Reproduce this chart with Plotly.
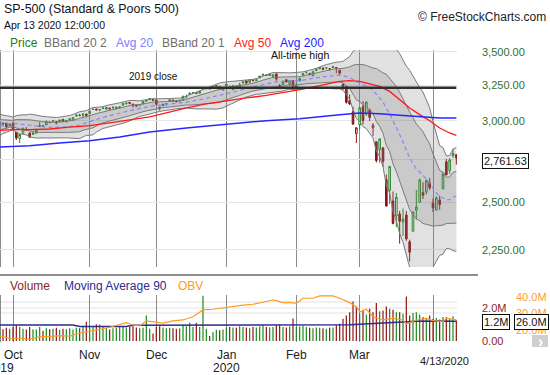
import plotly.graph_objects as go
import pandas as pd

# ---------------- data ----------------
HOLIDAYS = ["2019-11-28", "2019-12-25", "2020-01-01", "2020-01-20", "2020-02-17", "2020-04-10"]
DATES = [d.strftime("%Y-%m-%d") for d in pd.bdate_range("2019-09-25", "2020-04-13")
         if d.strftime("%Y-%m-%d") not in HOLIDAYS]

# closes before the visible window (needed for the 20-day Bollinger bands)
PRE_CLOSE = [2887.94, 2924.58, 2926.46, 2906.27, 2937.78, 2976.00, 2978.71, 2978.43, 2979.39, 3000.93,
             3009.57, 3007.39, 2997.96, 3005.70, 3006.73, 3006.79, 2992.07, 2991.78, 2966.60]

OPEN = [2968.35, 2985.73, 2985.47, 2967.07,
        2983.69, 2924.78, 2885.38, 2918.56, 2944.23, 2920.40, 2911.10, 2918.55, 2963.07, 2965.81, 2973.61, 2989.68,
        3000.77, 2996.84, 2996.48, 3010.73, 2994.01, 3014.78, 3003.32, 3032.12, 3035.39, 3039.74, 3046.90,
        3050.72, 3078.96, 3080.80, 3075.10, 3087.02, 3081.25, 3080.33, 3089.28, 3084.18, 3090.75, 3107.92, 3117.91,
        3127.45, 3114.66, 3108.49, 3111.41, 3117.44, 3134.85, 3145.49, 3147.18,
        3143.85, 3087.41, 3103.50, 3119.21, 3134.62, 3141.86, 3135.36, 3135.75, 3141.23, 3166.65, 3183.63, 3195.40,
        3195.21, 3192.32, 3223.33, 3226.05, 3225.45, 3227.20, 3247.23, 3240.09, 3215.18,
        3244.67, 3226.36, 3217.55, 3241.86, 3238.59, 3266.03, 3281.81, 3271.13, 3285.35, 3282.27, 3302.97, 3323.66,
        3321.03, 3330.02, 3315.77, 3333.10, 3247.16, 3255.35, 3289.46, 3256.45, 3282.33,
        3235.66, 3280.61, 3324.91, 3344.92, 3335.54, 3318.28, 3365.87, 3370.50, 3365.90, 3378.08, 3369.04, 3380.39,
        3380.45, 3360.50, 3257.61, 3238.94, 3139.90, 3062.54, 2916.90,
        2974.28, 3096.46, 3045.75, 3075.70, 2954.20, 2863.89, 2813.48, 2825.60, 2630.86, 2569.99, 2508.59, 2425.66,
        2436.50, 2393.48, 2431.94, 2290.71, 2344.44, 2457.77, 2501.29, 2555.87, 2558.98, 2614.69,
        2498.08, 2458.54, 2514.92, 2578.28, 2738.65, 2685.00, 2776.99, 2782.46]

HIGH = [2989.82, 2987.28, 2987.31, 2983.85,
        2992.53, 2924.78, 2911.13, 2953.74, 2959.75, 2925.47, 2929.32, 2948.46, 2993.28, 2972.84, 3003.28, 2997.54,
        3008.29, 3000.00, 3007.33, 3014.57, 3004.78, 3016.07, 3027.39, 3044.08, 3047.87, 3050.10, 3046.90,
        3066.95, 3085.20, 3083.95, 3078.34, 3097.77, 3093.09, 3088.33, 3102.61, 3098.06, 3098.20, 3120.46, 3124.17,
        3127.64, 3118.97, 3110.11, 3112.87, 3133.83, 3142.69, 3154.26, 3150.30,
        3144.31, 3094.97, 3119.38, 3119.45, 3150.60, 3148.87, 3142.12, 3143.98, 3176.28, 3182.68, 3197.71, 3198.22,
        3198.48, 3205.48, 3225.65, 3227.78, 3226.43, 3240.08, 3247.93, 3240.92, 3231.72,
        3258.14, 3246.15, 3246.84, 3244.91, 3267.07, 3275.58, 3282.99, 3288.13, 3294.25, 3298.66, 3317.11, 3329.88,
        3329.79, 3337.77, 3326.88, 3333.18, 3258.85, 3285.78, 3293.47, 3285.91, 3282.33,
        3268.44, 3306.92, 3337.58, 3347.96, 3341.42, 3352.26, 3375.63, 3381.47, 3385.09, 3380.69, 3375.01, 3393.52,
        3385.09, 3360.76, 3259.81, 3246.99, 3182.51, 3097.07, 2959.72,
        3090.96, 3136.72, 3130.97, 3083.04, 2985.93, 2863.89, 2882.59, 2825.60, 2660.95, 2711.33, 2562.98, 2553.93,
        2453.57, 2466.97, 2453.01, 2300.73, 2449.71, 2571.42, 2637.01, 2615.91, 2631.80, 2641.39,
        2522.75, 2533.22, 2538.18, 2676.85, 2756.89, 2760.75, 2818.57, 2782.46]

LOW = [2952.86, 2963.71, 2945.53, 2967.07,
       2938.70, 2874.93, 2855.94, 2918.56, 2935.68, 2892.66, 2907.41, 2917.12, 2963.07, 2962.94, 2973.61, 2985.20,
       2991.79, 2976.31, 2995.35, 2995.04, 2991.21, 3000.42, 3001.94, 3032.12, 3034.81, 3025.96, 3023.19,
       3050.72, 3074.87, 3072.15, 3065.89, 3080.23, 3073.58, 3075.82, 3084.73, 3078.80, 3083.26, 3104.60, 3112.06,
       3113.47, 3091.41, 3094.55, 3099.26, 3117.44, 3131.00, 3143.41, 3139.34,
       3110.78, 3070.33, 3102.53, 3103.76, 3134.62, 3135.46, 3126.09, 3133.21, 3138.47, 3156.51, 3183.63, 3191.03,
       3191.14, 3192.32, 3216.03, 3222.30, 3220.51, 3227.20, 3234.37, 3216.57, 3212.03,
       3235.53, 3222.34, 3214.64, 3232.43, 3236.67, 3263.67, 3260.86, 3268.43, 3277.19, 3280.69, 3302.82, 3318.86,
       3316.61, 3320.04, 3301.87, 3281.53, 3234.50, 3253.22, 3271.89, 3242.80, 3214.68,
       3235.66, 3280.61, 3313.75, 3334.39, 3322.12, 3317.77, 3352.72, 3369.72, 3360.52, 3366.15, 3355.61, 3378.83,
       3338.39, 3328.45, 3214.65, 3118.77, 3108.99, 2977.39, 2855.84,
       2945.19, 2976.63, 3034.38, 2999.83, 2901.54, 2734.43, 2734.00, 2707.22, 2478.86, 2492.37, 2380.94, 2367.04,
       2280.52, 2319.78, 2295.56, 2191.86, 2344.44, 2407.53, 2500.72, 2520.02, 2545.28, 2571.15,
       2447.49, 2455.79, 2459.96, 2574.57, 2657.67, 2663.30, 2762.36, 2721.17]

CLOSE = [2984.87, 2977.62, 2961.79, 2976.74,
         2940.25, 2887.61, 2910.63, 2952.01, 2938.79, 2893.06, 2919.40, 2938.13, 2970.27, 2966.15, 2995.68, 2989.69,
         2997.95, 2986.20, 3006.72, 2995.99, 3004.52, 3010.29, 3022.55, 3039.42, 3036.89, 3046.77, 3037.56,
         3066.91, 3078.27, 3074.62, 3076.78, 3085.18, 3093.08, 3087.01, 3091.84, 3094.04, 3096.63, 3120.46, 3122.03,
         3120.18, 3108.46, 3103.54, 3110.29, 3133.64, 3140.52, 3153.63, 3140.98,
         3113.87, 3093.20, 3112.76, 3117.43, 3145.91, 3135.96, 3132.52, 3141.63, 3168.57, 3168.80, 3191.45, 3192.52,
         3191.14, 3205.37, 3221.22, 3224.01, 3223.38, 3239.91, 3240.02, 3221.29, 3230.78,
         3257.85, 3234.85, 3246.28, 3237.18, 3253.05, 3274.70, 3265.35, 3288.13, 3283.15, 3289.29, 3316.81, 3329.62,
         3320.79, 3321.75, 3325.54, 3295.47, 3243.63, 3276.24, 3273.40, 3283.66, 3225.52,
         3248.92, 3297.59, 3334.69, 3345.78, 3327.71, 3352.09, 3357.75, 3379.45, 3373.94, 3380.16, 3370.29, 3386.15,
         3373.23, 3337.75, 3225.89, 3128.21, 3116.39, 2978.76, 2954.22,
         3090.23, 3003.37, 3130.12, 3023.94, 2972.37, 2746.56, 2882.23, 2741.38, 2480.64, 2711.02, 2386.13, 2529.19,
         2398.10, 2409.39, 2304.92, 2237.40, 2447.33, 2475.56, 2630.07, 2541.47, 2626.65, 2584.59,
         2470.50, 2526.90, 2488.65, 2663.68, 2659.41, 2749.98, 2789.82, 2761.63]

VOLUME_M = [0.78, 0.72, 0.80, 0.75,
            0.85, 0.95, 0.85, 0.75, 0.70, 0.85, 0.72, 0.70, 0.85, 0.62, 0.78, 0.72, 0.75, 0.80, 0.68, 0.75, 0.72,
            0.78, 0.70, 0.80, 0.78, 0.85, 1.17,
            0.90, 0.85, 1.02, 1.00, 0.90, 0.80, 0.70, 0.78, 0.80, 0.85, 0.90, 0.82, 0.85, 0.90, 0.82, 0.78, 0.80,
            1.55, 0.75, 0.45,
            0.85, 0.90, 0.82, 0.78, 0.80, 0.78, 0.75, 0.78, 0.95, 0.90, 1.10, 0.85, 1.10, 0.85, 2.75, 0.75, 0.30,
            0.55, 0.68, 0.65, 0.70,
            0.80, 0.85, 0.82, 0.80, 0.90, 0.85, 0.82, 0.78, 0.85, 0.82, 0.88, 0.95, 0.85, 0.82, 0.85, 0.95, 1.00,
            0.85, 0.82, 0.88, 1.37,
            0.85, 0.88, 0.92, 0.85, 0.80, 0.78, 0.82, 0.80, 0.78, 0.75, 0.80, 0.82, 0.95, 1.05, 1.35, 1.55, 1.75,
            2.40, 2.10,
            1.68, 1.88, 1.60, 1.95, 1.75, 2.30, 1.80, 1.85, 2.10, 1.95, 1.90, 1.75, 1.75, 1.65, 2.70, 1.55, 1.70,
            1.75, 1.60, 1.45, 1.40, 1.55,
            1.35, 1.40, 1.30, 1.45, 1.45, 1.35, 1.50, 1.25]

AVG50_DATES = ["2019-09-25", "2019-10-01", "2019-10-08", "2019-10-16", "2019-10-23", "2019-11-01", "2019-11-11",
               "2019-11-20", "2019-11-27", "2019-12-05", "2019-12-13", "2019-12-23", "2020-01-02", "2020-01-10",
               "2020-01-21", "2020-01-29", "2020-02-04", "2020-02-12", "2020-02-21", "2020-02-26", "2020-03-02",
               "2020-03-05", "2020-03-10", "2020-03-13", "2020-03-18", "2020-03-23", "2020-03-26", "2020-03-31",
               "2020-04-03", "2020-04-08", "2020-04-13"]
AVG50 = [2937.6, 2942.2, 2942.2, 2946.8, 2957.4, 2968.6, 2986.6, 3008.7, 3026.9, 3054.1, 3088.4, 3116.1, 3139.2,
         3158.2, 3176.6, 3198.0, 3217.3, 3246.2, 3277.6, 3282.7, 3277.6, 3258.6, 3241.1, 3205.1, 3146.2, 3088.4,
         3042.6, 3002.0, 2953.4, 2920.6, 2905.0]

AVG200_DATES = ["2019-09-25", "2019-10-08", "2019-10-21", "2019-11-01", "2019-11-14", "2019-11-27", "2019-12-13",
                "2020-01-02", "2020-01-21", "2020-02-04", "2020-02-12", "2020-02-21", "2020-03-02", "2020-03-10",
                "2020-03-18", "2020-03-26", "2020-04-03", "2020-04-13"]
AVG200 = [2830.5, 2838.7, 2855.9, 2870.6, 2894.5, 2927.0, 2953.4, 2979.7, 3002.0, 3015.4, 3031.0, 3042.6, 3054.1,
          3049.3, 3037.8, 3026.9, 3020.1, 3020.1]

VOL_MA90_DATES = ["2019-09-25", "2019-10-25", "2019-10-29", "2019-11-18", "2019-11-20", "2019-12-19", "2020-01-21",
                  "2020-02-19", "2020-02-26", "2020-03-02", "2020-03-06", "2020-03-12", "2020-03-18", "2020-03-25",
                  "2020-04-01", "2020-04-13"]
VOL_MA90 = [0.97, 0.97, 0.88, 0.88, 0.95, 0.96, 0.95, 0.95, 0.98, 1.02, 1.06, 1.12, 1.17, 1.20, 1.22, 1.20]

OBV_DATES = ["2019-09-25", "2019-09-30", "2019-10-03", "2019-10-08", "2019-10-11", "2019-10-16", "2019-10-21",
             "2019-10-24", "2019-10-29", "2019-11-01", "2019-11-06", "2019-11-11", "2019-11-14", "2019-11-18",
             "2019-11-20", "2019-11-22", "2019-11-26", "2019-12-02", "2019-12-04", "2019-12-09", "2019-12-12",
             "2019-12-17", "2019-12-20", "2019-12-26", "2019-12-31", "2020-01-06", "2020-01-09", "2020-01-14",
             "2020-01-17", "2020-01-23", "2020-01-24", "2020-01-28", "2020-01-30", "2020-02-03", "2020-02-05",
             "2020-02-10", "2020-02-12", "2020-02-19", "2020-02-21", "2020-02-26", "2020-02-28", "2020-03-02",
             "2020-03-04", "2020-03-06", "2020-03-11", "2020-03-16", "2020-03-19", "2020-03-20", "2020-03-25",
             "2020-03-30", "2020-04-01", "2020-04-06", "2020-04-07", "2020-04-13"]
OBV_M = [16.3, 14.7, 14.7, 14.1, 15.7, 15.7, 16.3, 16.0, 17.8, 18.8, 20.2, 21.5, 22.9, 24.3, 22.9, 22.3, 25.4,
         24.6, 24.0, 25.4, 26.0, 28.0, 32.2, 32.6, 33.6, 34.6, 35.2, 35.7, 36.9, 38.3, 37.9, 36.7, 36.9, 36.3,
         39.4, 39.4, 40.8, 40.8, 39.4, 36.7, 34.2, 31.1, 32.6, 28.0, 26.0, 27.0, 26.0, 23.5, 26.0, 27.0, 25.6,
         25.0, 27.0, 26.0]

CLOSE_2019 = 3230.78
ATH_LABEL = "All-time high"
PRICE_TICKS = [2250, 2500, 2750, 3000, 3250, 3500]
VOL_TICKS = [0.0, 2.0]
VOL_TICK_TEXT = ["0.00", "2.0M"]
OBV_TICKS = [20, 30, 40]
OBV_TICK_TEXT = ["20.0M", "30.0M", "40.0M"]
MONTH_LABELS = ["Oct", "Nov", "Dec", "Jan", "Feb", "Mar"]
LAST_DATE_LABEL = "4/13/2020"

for arr in (OPEN, HIGH, LOW, CLOSE, VOLUME_M):
    assert len(arr) == len(DATES), (len(arr), len(DATES))

# ---------------- derived indicators ----------------
allc = pd.Series(PRE_CLOSE + CLOSE)
ma20 = allc.rolling(20).mean().iloc[len(PRE_CLOSE):].tolist()
sd20 = allc.rolling(20).std(ddof=0).iloc[len(PRE_CLOSE):].tolist()
bb2_up = [m + 2 * s for m, s in zip(ma20, sd20)]
bb2_lo = [m - 2 * s for m, s in zip(ma20, sd20)]
bb1_up = [m + 1 * s for m, s in zip(ma20, sd20)]
bb1_lo = [m - 1 * s for m, s in zip(ma20, sd20)]

prev = [PRE_CLOSE[-1]] + CLOSE[:-1]
up_day = [c >= p for c, p in zip(CLOSE, prev)]

GREEN = "#1b8a1b"
RED = "#8e1414"
FONT = "Liberation Sans, Arial, sans-serif"

# month start dates (first trading day in each month)
month_starts = [d for i, d in enumerate(DATES) if i > 0 and d[:7] != DATES[i - 1][:7]]

fig = go.Figure()

# Bollinger band 20,2 (outer)
fig.add_trace(go.Scatter(x=DATES, y=bb2_lo, mode="lines", line=dict(color="#7a7a7a", width=1),
                         xaxis="x", yaxis="y", hoverinfo="skip"))
fig.add_trace(go.Scatter(x=DATES, y=bb2_up, mode="lines", line=dict(color="#7a7a7a", width=1),
                         fill="tonexty", fillcolor="rgba(128,128,128,0.24)", xaxis="x", yaxis="y", hoverinfo="skip"))
# Bollinger band 20,1 (inner)
fig.add_trace(go.Scatter(x=DATES, y=bb1_lo, mode="lines", line=dict(color="#7a7a7a", width=1),
                         xaxis="x", yaxis="y", hoverinfo="skip"))
fig.add_trace(go.Scatter(x=DATES, y=bb1_up, mode="lines", line=dict(color="#7a7a7a", width=1),
                         fill="tonexty", fillcolor="rgba(110,110,110,0.2)", xaxis="x", yaxis="y", hoverinfo="skip"))
# Avg 20
fig.add_trace(go.Scatter(x=DATES, y=ma20, mode="lines", line=dict(color="#8585ff", width=1.2, dash="4px,3px"),
                         xaxis="x", yaxis="y", hoverinfo="skip"))

# candles: colour by close vs previous close, hollow when close > open
for flag, col in ((True, GREEN), (False, RED)):
    idx = [i for i in range(len(DATES)) if up_day[i] == flag]
    fig.add_trace(go.Candlestick(
        x=[DATES[i] for i in idx], open=[OPEN[i] for i in idx], high=[HIGH[i] for i in idx],
        low=[LOW[i] for i in idx], close=[CLOSE[i] for i in idx],
        increasing=dict(line=dict(color=col, width=1), fillcolor="white"),
        decreasing=dict(line=dict(color=col, width=1), fillcolor=col),
        whiskerwidth=0, xaxis="x", yaxis="y", hoverinfo="skip"))

fig.add_trace(go.Scatter(x=AVG50_DATES, y=AVG50, mode="lines", line=dict(color="#ff1a1a", width=1.3),
                         xaxis="x", yaxis="y", hoverinfo="skip"))
fig.add_trace(go.Scatter(x=AVG200_DATES, y=AVG200, mode="lines", line=dict(color="#2828ff", width=1.5),
                         xaxis="x", yaxis="y", hoverinfo="skip"))
fig.add_trace(go.Scatter(x=[DATES[0], DATES[-1]], y=[CLOSE_2019, CLOSE_2019], mode="lines",
                         line=dict(color="#2e2e2e", width=2.5), xaxis="x", yaxis="y", hoverinfo="skip"))

# volume panel
fig.add_trace(go.Bar(x=DATES, y=VOLUME_M, marker=dict(color=[GREEN if u else RED for u in up_day], line=dict(width=0)),
                     width=0.36, xaxis="x2", yaxis="y2", hoverinfo="skip"))
fig.add_trace(go.Scatter(x=VOL_MA90_DATES, y=VOL_MA90, mode="lines", line=dict(color="#2c2c8e", width=1.5),
                         xaxis="x2", yaxis="y2", hoverinfo="skip"))
fig.add_trace(go.Scatter(x=OBV_DATES, y=OBV_M, mode="lines", line=dict(color="#ff9a22", width=1.2),
                         xaxis="x2", yaxis="y3", hoverinfo="skip"))

# ---------------- layout ----------------
W, H = 550, 375
ML, MR, MT, MB = 0, 93, 50, 33
PW, PH = W - ML - MR, H - MT - MB


def px(x):
    return (x - ML) / PW


def py(y):
    return (H - MB - y) / PH


xcommon = dict(type="category", categoryorder="array", categoryarray=DATES, range=[0.1, 137.2],
               tickvals=month_starts, showticklabels=False, showgrid=True, gridcolor="#8c8c8c", gridwidth=1,
               zeroline=False, showline=False, ticks="", fixedrange=True)

fig.update_layout(
    width=W, height=H, margin=dict(l=ML, r=MR, t=MT, b=MB, pad=0),
    paper_bgcolor="white", plot_bgcolor="white", showlegend=False,
    font=dict(family=FONT, size=11, color="#222"),
    xaxis=dict(**xcommon, domain=[0, 1], anchor="y", rangeslider=dict(visible=False)),
    xaxis2=dict(**xcommon, domain=[0, 1], anchor="y2", matches="x"),
    yaxis=dict(domain=[py(267), 1], type="log", range=[3.3354, 3.5460], side="right", anchor="x",
               tickvals=PRICE_TICKS, ticktext=[f"{v:,.2f}" for v in PRICE_TICKS],
               tickfont=dict(color="#2f6f2f", size=11, family=FONT), ticklabelstandoff=24,
               gridcolor="#e6e6e6", gridwidth=1, zeroline=False, showline=False, ticks="", fixedrange=True),
    yaxis2=dict(domain=[0, py(295)], range=[-0.06, 2.79], side="right", anchor="x2",
                tickvals=VOL_TICKS, ticktext=VOL_TICK_TEXT, tickfont=dict(color="#8b1f1f", size=11, family=FONT),
                ticklabelstandoff=24, showgrid=False, zeroline=False, showline=False, ticks="", fixedrange=True),
    yaxis3=dict(overlaying="y2", range=[12.4, 41.4], side="right", anchor="x2",
                tickvals=OBV_TICKS, ticktext=OBV_TICK_TEXT, tickfont=dict(color="#ff9a2e", size=11, family=FONT),
                ticklabelstandoff=58, showgrid=False, zeroline=False, showline=False, ticks="", fixedrange=True),
)

shapes = []
# faint grid lines in volume panel
for yy in (302, 308, 313):
    shapes.append(dict(type="line", xref="paper", yref="paper", x0=0, x1=1, y0=py(yy), y1=py(yy),
                       line=dict(color="#e2e2e2", width=1), layer="below"))
# left border lines
shapes.append(dict(type="line", xref="paper", yref="paper", x0=px(0.5), x1=px(0.5), y0=py(267), y1=1,
                   line=dict(color="#8c8c8c", width=1), layer="below"))
shapes.append(dict(type="line", xref="paper", yref="paper", x0=px(0.5), x1=px(0.5), y0=0, y1=py(295),
                   line=dict(color="#8c8c8c", width=1), layer="below"))
# separator between panels
shapes.append(dict(type="line", xref="paper", yref="paper", x0=0, x1=px(478), y0=py(275), y1=py(275),
                   line=dict(color="#6a6a6a", width=1.5)))
# scroll button
shapes.append(dict(type="rect", xref="paper", yref="paper", x0=px(532), x1=px(548), y0=py(347), y1=py(335),
                   fillcolor="#cfcfcf", line=dict(width=0)))
fig.update_layout(shapes=shapes)

ann = []


def txt(text, x, y, size=12, color="#222", xanchor="left", **kw):
    ann.append(dict(text=text, x=px(x), y=py(y), xref="paper", yref="paper", xanchor=xanchor, yanchor="middle",
                    showarrow=False, font=dict(family=FONT, size=size, color=color), **kw))


txt("SP-500 (Standard &amp; Poors 500)", 1.5, 9.5, size=12.4, color="#111")
txt("Apr 13 2020 12:00:00", 1.5, 25, size=10.5, color="#111")
txt("© FreeStockCharts.com", 548, 17, size=12, color="#222", xanchor="right")

for label, x0, col in (("Price", 8, "#1f7a1f"), ("BBand 20 2", 42, "#6e6e6e"), ("Avg 20", 114, "#8080ff"),
                       ("BBand 20 1", 160, "#6e6e6e"), ("Avg 50", 232, "#ff1a1a"), ("Avg 200", 278, "#2323ff")):
    txt(label, x0, 43, size=12, color=col)

for label, x0, col in (("Volume", 8, "#8b1f1f"), ("Moving Average 90", 62, "#2c2c8e"), ("OBV", 176, "#ff9a22")):
    txt(label, x0, 286, size=12, color=col)

txt("2019 close", 153, 76, size=10, color="#111", xanchor="center")
txt(ATH_LABEL, 300, 54.5, size=10.6, color="#111", xanchor="center")

# value boxes
box = dict(bordercolor="#111", borderwidth=1, bgcolor="white", borderpad=1)
txt(f"{CLOSE[-1]:,.2f}", 506, 160.5, size=11, color="#111", xanchor="center", **box)
txt(f"{VOL_MA90[-1]:.1f}M", 495.5, 321.7, size=11, color="#111", xanchor="center", **box)
txt(f"{OBV_M[-1]:.1f}M", 531.5, 321.7, size=11, color="#111", xanchor="center", **box)
txt("<b>›</b>", 540, 341, size=16, color="white", xanchor="center")

# month labels under volume panel
for m, d in zip(MONTH_LABELS, month_starts):
    ann.append(dict(text=m, x=d, y=py(355), xref="x2", yref="paper", xanchor="center", yanchor="middle",
                    showarrow=False, font=dict(family=FONT, size=12, color="#222")))
# year of the first visible bar sits at the left edge (partly cut off, as in the reference)
txt("2019", 0, 368, size=12, color="#222", xanchor="center")
ann.append(dict(text="2020", x=month_starts[3], y=py(368), xref="x2", yref="paper", xanchor="center",
                yanchor="middle", showarrow=False, font=dict(family=FONT, size=12, color="#222")))
txt(LAST_DATE_LABEL, 444, 361, size=11, color="#222", xanchor="center")

fig.update_layout(annotations=ann)

fig.write_html("out.html", config={"displayModeBar": False, "staticPlot": True},
               post_script="document.body.style.margin='0';document.body.style.padding='0';")
